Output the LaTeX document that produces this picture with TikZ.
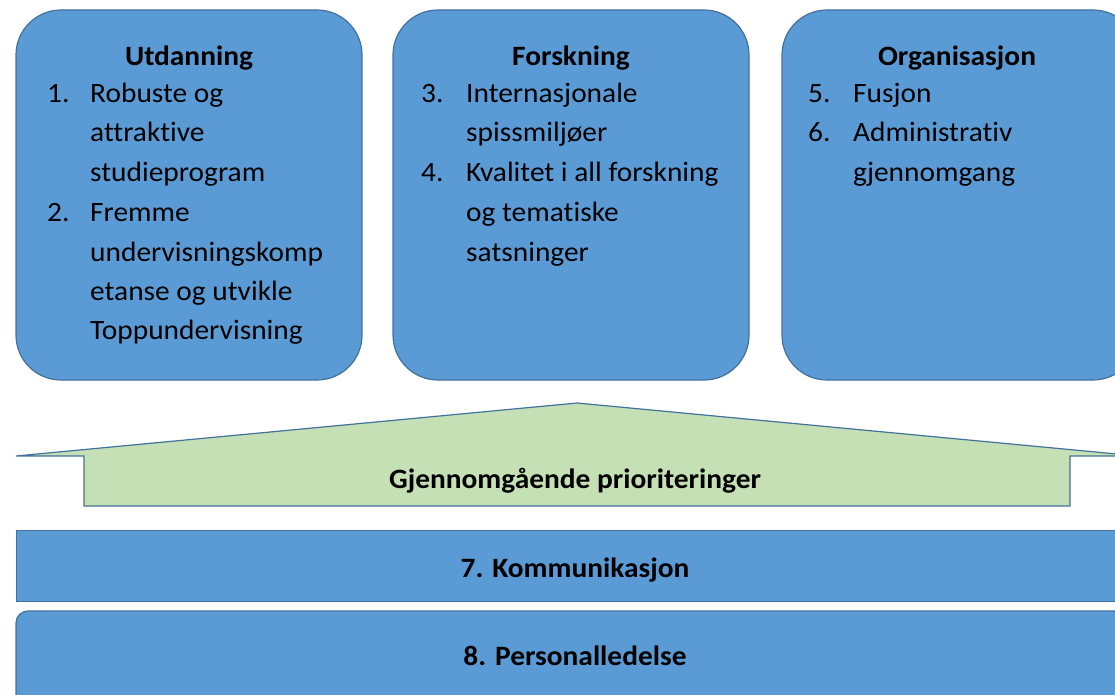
\documentclass[tikz,border=0pt]{standalone}
\usepackage{fontspec}
\setmainfont[FakeStretch=1.05,Ligatures={NoCommon}]{Carlito}
\definecolor{boxblue}{HTML}{5B9BD5}
\definecolor{edgeblue}{HTML}{41719C}
\definecolor{arrowgreen}{HTML}{C5E0B4}
\tikzset{
  colbox/.style={draw=edgeblue, fill=boxblue, line width=1.2pt, rounded corners=45pt,
    minimum height=370pt, inner sep=0pt},
  band/.style={draw=edgeblue, fill=boxblue, line width=1.2pt, inner sep=0pt},
  txt/.style={font=\fontsize{28}{32}\selectfont, anchor=base west, inner sep=0pt, text=black},
  ttl/.style={font=\fontsize{28}{32}\selectfont\bfseries, anchor=base, inner sep=0pt, text=black},
}
\begin{document}
\begin{tikzpicture}[x=1pt,y=-1pt]
\useasboundingbox (0,0) rectangle (1115,695);
\clip (0,0) rectangle (1115,695);
% column boxes
\node[colbox, minimum width=346pt] (b1) at (189,195) {};
\node[colbox, minimum width=356pt] (b2) at (571,195) {};
\node[colbox, minimum width=356pt] (b3) at (960,195) {};
% arrow
\draw[draw=edgeblue, fill=arrowgreen, line width=1.2pt, line join=miter]
  (16,456) -- (577,403) -- (1138,456) -- (1070,456) -- (1070,506) -- (84,506) -- (84,456) -- cycle;
\node[ttl] (ga) at (575,488) {Gjennomgående prioriteringer};
% bands
\node[band, minimum width=1140pt, minimum height=71pt, anchor=north west] (k7) at (16,530) {};
\node[ttl] (k7t) at (575,577) {7. Kommunikasjon};
\draw[draw=edgeblue, fill=boxblue, line width=1.2pt, rounded corners=12pt] (16,720) -- (16,611) -- (1140,611) -- (1140,720) -- cycle;
\node[ttl] (k8t) at (575,665) {8. Personalledelse};
% box 1 text
\node[ttl] (t1) at (189,66) {Utdanning};
\node[txt] (n1) at (47,103) {1.};
\node[txt] (l11) at (90,103) {Robuste og};
\node[txt] (l12) at (90,142) {attraktive};
\node[txt] (l13) at (90,182) {studieprogram};
\node[txt] (n2) at (47,221) {2.};
\node[txt] (l21) at (90,221) {Fremme};
\node[txt] (l22) at (90,261) {undervisningskomp};
\node[txt] (l23) at (90,300) {etanse og utvikle};
\node[txt] (l24) at (90,339) {Toppundervisning};
% box 2 text
\node[ttl] (t2) at (571,66) {Forskning};
\node[txt] (n3) at (421,103) {3.};
\node[txt] (l31) at (466,103) {Internasjonale};
\node[txt] (l32) at (466,142) {spissmiljøer};
\node[txt] (n4) at (421,182) {4.};
\node[txt] (l41) at (466,182) {Kvalitet i all forskning};
\node[txt] (l42) at (466,221) {og tematiske};
\node[txt] (l43) at (466,261) {satsninger};
% box 3 text
\node[ttl] (t3) at (957,66) {Organisasjon};
\node[txt] (n5) at (808,103) {5.};
\node[txt] (l51) at (853,103) {Fusjon};
\node[txt] (n6) at (808,142) {6.};
\node[txt] (l61) at (853,142) {Administrativ};
\node[txt] (l62) at (853,182) {gjennomgang};
\end{tikzpicture}
\end{document}
